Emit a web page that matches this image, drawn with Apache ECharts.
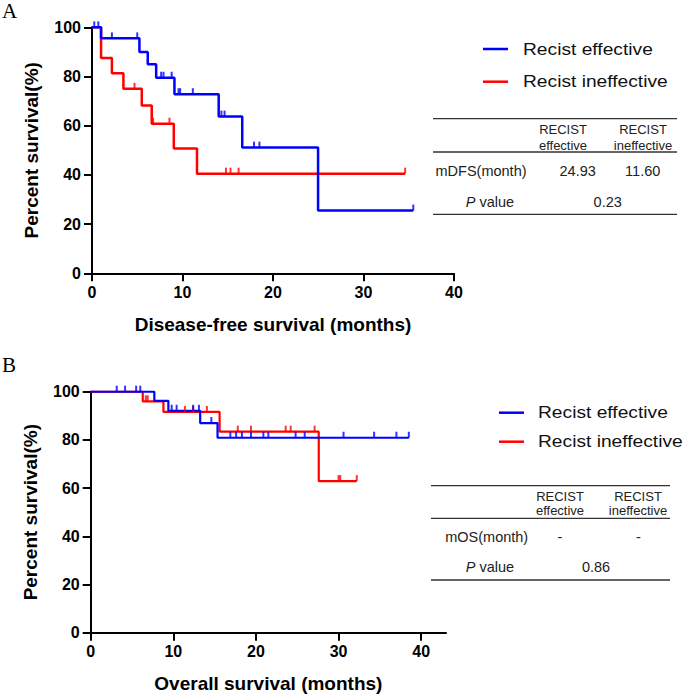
<!DOCTYPE html>
<html>
<head>
<meta charset="utf-8">
<script src="https://cdn.jsdelivr.net/npm/echarts@6/dist/echarts.min.js"></script>
<style>
html,body{margin:0;padding:0;background:#fff;}
#main{width:685px;height:697px;}
</style>
</head>
<body>
<div id="main"></div>
<script>
// ---- Panel A: Disease-free survival ----
const dfsEffTimes   = [0, 1.0, 5.24, 6.16, 7.09, 9.11, 14.0, 16.6, 24.98, 35.5];
const dfsEffSurv    = [100, 95.5, 90.0, 85.0, 79.5, 72.8, 63.7, 51.1, 25.5, 25.5];
const dfsEffCensor  = [0.25, 0.7, 2.2, 5.0, 7.64, 7.9, 8.8, 9.56, 9.74, 11.14, 14.3, 14.65, 17.9, 18.5, 35.5];

const dfsIneTimes   = [0, 1.0, 2.2, 3.47, 5.5, 6.6, 9.04, 11.6, 34.6];
const dfsIneSurv    = [100, 87.5, 81.3, 75.0, 68.2, 60.8, 50.7, 40.5, 40.5];
const dfsIneCensor  = [4.7, 6.75, 8.56, 14.8, 15.3, 16.2, 34.6];

// ---- Panel B: Overall survival ----
const osEffTimes    = [0, 7.7, 9.4, 13.25, 15.35, 38.5];
const osEffSurv     = [100, 96.2, 92.1, 87.0, 80.9, 80.9];
const osEffCensor   = [3.15, 4.16, 5.5, 6.0, 9.8, 10.4, 12.4, 13.1, 14.6, 16.9, 17.6, 18.3, 19.4, 20.9, 21.5, 24.8, 25.9, 30.6, 34.3, 37.0, 38.5];

const osIneTimes    = [0, 6.3, 8.8, 15.6, 27.6, 32.2];
const osIneSurv     = [100, 96.0, 91.6, 83.4, 62.9, 62.9];
const osIneCensor   = [6.67, 6.9, 11.4, 12.4, 14.06, 17.8, 19.4, 23.6, 24.2, 27.1, 30.0, 30.2, 32.2];

const seriesNames = ['Recist effective', 'Recist ineffective'];
const xTicks = [0, 10, 20, 30, 40];
const yTicks = [0, 20, 40, 60, 80, 100];

const tableA = {header: ['RECIST\neffective', 'RECIST\nineffective'], rowLabel: 'mDFS(month)', values: ['24.93', '11.60'], p: '0.23'};
const tableB = {header: ['RECIST\neffective', 'RECIST\nineffective'], rowLabel: 'mOS(month)', values: ['-', '-'], p: '0.86'};

const BLUE = '#0000ff', RED = '#ff0000';
const FONT = '"Liberation Sans", Arial, Helvetica, sans-serif';

function zip(t, s) { return t.map((v, i) => [v, s[i]]); }
function survAt(t, s, x) { let v = s[0]; for (let i = 0; i < t.length; i++) { if (t[i] <= x) v = s[i]; } return v; }
function censorPts(t, s, c) { return c.map(x => [x, survAt(t, s, x)]); }

function axisCommon() {
  return {
    axisLine: {show: true, lineStyle: {color: '#000', width: 2}},
    axisTick: {show: true, length: 8, lineStyle: {color: '#000', width: 2}},
    splitLine: {show: false},
    axisLabel: {color: '#000', fontSize: 16, fontWeight: 'bold', fontFamily: FONT, margin: 11},
    nameLocation: 'middle',
    nameTextStyle: {color: '#000', fontSize: 19, fontWeight: 'bold', fontFamily: FONT}
  };
}

function kmLine(name, color, t, s, xi, width) {
  return {type: 'line', name, step: 'end', symbol: 'none', xAxisIndex: xi, yAxisIndex: xi,
    data: zip(t, s), lineStyle: {color, width}, itemStyle: {color}, silent: true, z: 3};
}
function kmCensor(name, color, t, s, c, xi) {
  return {type: 'scatter', name, symbol: 'rect', symbolSize: [2, 6], symbolOffset: [0, -3],
    xAxisIndex: xi, yAxisIndex: xi, data: censorPts(t, s, c), itemStyle: {color}, silent: true, z: 4};
}

function legendGraphics(x0, yTop, gap, textX) {
  const els = [];
  [BLUE, RED].forEach((col, i) => {
    const y = yTop + i * gap;
    els.push({type: 'line', shape: {x1: x0, y1: y, x2: x0 + 25, y2: y}, style: {stroke: col, lineWidth: 2.5}});
    els.push({type: 'text', x: textX, y: y, scaleX: 1.13, style: {text: seriesNames[i], fill: '#111', font: '17px ' + FONT, textVerticalAlign: 'middle', textAlign: 'left'}});
  });
  return els;
}

function tableGraphics(tb, L) {
  const els = [];
  const hl = (y) => ({type: 'line', shape: {x1: L.x1, y1: y, x2: L.x2, y2: y}, style: {stroke: '#333', lineWidth: 1.3}});
  els.push(hl(L.top), hl(L.mid), hl(L.bot));
  tb.header.forEach((h, i) => {
    els.push({type: 'text', x: L.hx[i], y: L.hy, style: {text: h, fill: '#222', font: '13px ' + FONT, textAlign: 'center', textVerticalAlign: 'middle', lineHeight: L.hlh}});
  });
  els.push({type: 'text', x: L.labX, y: L.r1, style: {text: tb.rowLabel, fill: '#222', font: '14.5px ' + FONT, textAlign: 'center', textVerticalAlign: 'middle'}});
  tb.values.forEach((v, i) => {
    els.push({type: 'text', x: L.vx[i], y: L.r1, style: {text: v, fill: '#222', font: '14.5px ' + FONT, textAlign: 'center', textVerticalAlign: 'middle'}});
  });
  els.push({type: 'text', x: L.px, y: L.r2, style: {text: '{i|P} value', fill: '#222', font: '14.5px ' + FONT, textAlign: 'center', textVerticalAlign: 'middle',
    rich: {i: {fontStyle: 'italic', fontSize: 14.5, fontFamily: FONT, fill: '#222'}}}});
  els.push({type: 'text', x: L.pvx, y: L.r2, style: {text: tb.p, fill: '#222', font: '14.5px ' + FONT, textAlign: 'center', textVerticalAlign: 'middle'}});
  return els;
}

const chart = echarts.init(document.getElementById('main'), null, {renderer: 'svg'});

const xA = Object.assign(axisCommon(), {type: 'value', gridIndex: 0, min: 0, max: 40, interval: 10, name: 'Disease-free survival (months)', nameGap: 42});
const yA = Object.assign(axisCommon(), {type: 'value', gridIndex: 0, min: 0, max: 100, interval: 20, name: 'Percent survival(%)', nameGap: 51});
const xB = Object.assign(axisCommon(), {type: 'value', gridIndex: 1, min: 0, max: 43, name: 'Overall survival (months)', nameGap: 41});
xB.axisTick.customValues = xTicks;
xB.axisLabel.customValues = xTicks;
const yB = Object.assign(axisCommon(), {type: 'value', gridIndex: 1, min: 0, max: 100, interval: 20, name: 'Percent survival(%)', nameGap: 51});

const graphics = [
  {type: 'text', x: 2, y: 11, style: {text: 'A', fill: '#000', font: '21px "Liberation Serif", "Times New Roman", serif', textVerticalAlign: 'middle'}},
  {type: 'text', x: 2, y: 365, style: {text: 'B', fill: '#000', font: '21px "Liberation Serif", "Times New Roman", serif', textVerticalAlign: 'middle'}}
].concat(
  legendGraphics(483, 49, 32.7, 523),
  legendGraphics(499, 412.7, 29, 538),
  tableGraphics(tableA, {x1: 433, x2: 677, top: 118.7, mid: 152, bot: 214.3, hx: [563, 643], hy: 137.2, hlh: 15.7, labX: 481, vx: [577.7, 642.7], r1: 170.7, r2: 201.7, px: 490, pvx: 607.7}),
  tableGraphics(tableB, {x1: 431, x2: 670, top: 485.7, mid: 518.3, bot: 580, hx: [560, 638], hy: 503.7, hlh: 14.5, labX: 486.7, vx: [560, 638.5], r1: 536.7, r2: 566.7, px: 490, pvx: 596})
);

chart.setOption({
  animation: false,
  backgroundColor: '#fff',
  grid: [
    {left: 92, top: 27.3, width: 362, height: 246},
    {left: 90.7, top: 391.7, width: 355.3, height: 241}
  ],
  xAxis: [xA, xB],
  yAxis: [yA, yB],
  series: [
    kmLine(seriesNames[1], RED, dfsIneTimes, dfsIneSurv, 0, 2.5),
    kmCensor(seriesNames[1], RED, dfsIneTimes, dfsIneSurv, dfsIneCensor, 0),
    kmLine(seriesNames[0], BLUE, dfsEffTimes, dfsEffSurv, 0, 2.5),
    kmCensor(seriesNames[0], BLUE, dfsEffTimes, dfsEffSurv, dfsEffCensor, 0),
    kmLine(seriesNames[1], RED, osIneTimes, osIneSurv, 1, 2.2),
    kmCensor(seriesNames[1], RED, osIneTimes, osIneSurv, osIneCensor, 1),
    kmLine(seriesNames[0], BLUE, osEffTimes, osEffSurv, 1, 2.2),
    kmCensor(seriesNames[0], BLUE, osEffTimes, osEffSurv, osEffCensor, 1)
  ],
  graphic: graphics
});
</script>
</body>
</html>
